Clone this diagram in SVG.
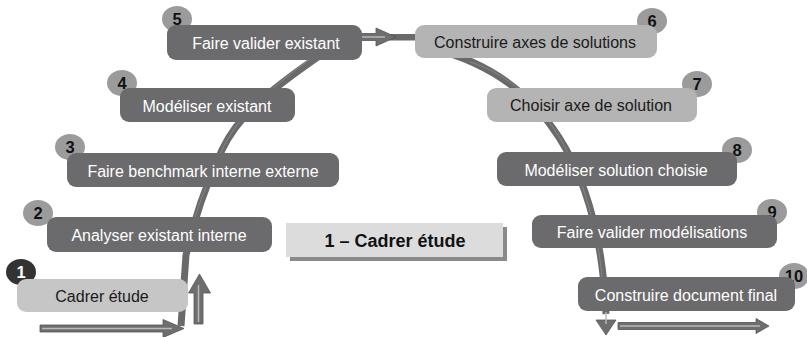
<svg xmlns="http://www.w3.org/2000/svg" width="807" height="337" viewBox="0 0 807 337">
<style>
.dark{fill:#6b6b6d}
.light1{fill:#c6c6c6}
.light2{fill:#b4b4b4}
.t{font-family:"Liberation Sans",Arial,sans-serif;font-size:16px;text-anchor:middle}
.tw{fill:#ffffff}
.tb{fill:#1a1a1a}
.badge{fill:#9b9b9b}
.bn{font-family:"Liberation Sans",Arial,sans-serif;font-size:16.5px;font-weight:bold;text-anchor:middle;fill:#111}
.curve{fill:none;stroke:#6a6a6a;stroke-width:7;stroke-linecap:butt}
.streak{fill:none;stroke:#9a9a9a;stroke-width:1;opacity:0.6}
.arr{fill:#6e6e6e;stroke:#555;stroke-width:0.8}
.inner{stroke:#b9b9b9;stroke-width:1.5;fill:none}
</style>
<rect width="807" height="337" fill="#ffffff"/>
<g id="connectors">
  <path class="curve" d="M181,326 L186,255 C195,215 208,180 222,150 S260,95 340,42"/>
  <path class="streak" d="M188,240 C196,210 208,180 222,150 S260,95 320,52"/>
  <path class="curve" d="M430,48 C545,75 600,170 606,314"/>
  <path class="streak" d="M470,62 C545,85 597,175 604,300"/>
  <rect x="389" y="34" width="29" height="6.5" fill="#6a6a6a"/>
  <polygon class="arr" points="360,33.5 376,33.5 376,28 396,37 376,46 376,40.5 360,40.5"/>
  <line class="inner" x1="362" y1="37" x2="385" y2="37"/>
  <polygon class="arr" points="40,325 163,325 163,319.5 184,328.5 163,337.5 163,332 40,332"/>
  <line class="inner" x1="42" y1="328.5" x2="172" y2="328.5"/>
  <polygon class="arr" points="194,324 194,293 188.5,293 199.5,274 210.5,293 203,293 203,324"/>
  <line class="inner" x1="198.5" y1="322" x2="198.5" y2="285"/>
  <polygon class="arr" points="596,320 616,320 606,335"/>
  <line class="inner" x1="606" y1="312" x2="606" y2="324"/>
  <polygon class="arr" points="618,322.5 756,322.5 756,318.5 769,326 756,333.5 756,329.5 618,329.5"/>
  <line class="inner" x1="620" y1="326" x2="760" y2="326"/>
</g>
<g id="node1">
  <ellipse cx="21" cy="272" rx="15" ry="13" fill="#333333"/>
  <rect class="light1" x="17" y="279" width="171" height="33" rx="9"/>
  <text class="bn" x="21" y="278" style="fill:#ffffff">1</text>
  <text class="t tb" x="102" y="301.5">Cadrer étude</text>
</g>
<g id="node2">
  <ellipse class="badge" cx="38" cy="213" rx="15" ry="13"/>
  <text class="bn" x="38" y="219">2</text>
  <rect class="dark" x="47" y="217" width="225" height="35" rx="9"/>
  <text class="t tw" x="159" y="240.5">Analyser existant interne</text>
</g>
<g id="node3">
  <ellipse class="badge" cx="70" cy="147" rx="15" ry="13"/>
  <text class="bn" x="70" y="153">3</text>
  <rect class="dark" x="67" y="153" width="272" height="34" rx="9"/>
  <text class="t tw" x="203" y="176.5">Faire benchmark interne externe</text>
</g>
<g id="node4">
  <ellipse class="badge" cx="122" cy="83" rx="15" ry="13"/>
  <text class="bn" x="122" y="89">4</text>
  <rect class="dark" x="120" y="88" width="175" height="34" rx="9"/>
  <text class="t tw" x="207" y="111.5">Modéliser existant</text>
</g>
<g id="node5">
  <ellipse class="badge" cx="177" cy="19" rx="15" ry="13"/>
  <text class="bn" x="177" y="25">5</text>
  <rect class="dark" x="167" y="25" width="195" height="35" rx="9"/>
  <text class="t tw" x="266" y="48.5">Faire valider existant</text>
</g>
<g id="node6">
  <ellipse class="badge" cx="652" cy="21" rx="15" ry="13"/>
  <text class="bn" x="652" y="27">6</text>
  <rect class="light2" x="415" y="25" width="242" height="33" rx="9"/>
  <text class="t tb" x="535" y="47.5">Construire axes de solutions</text>
</g>
<g id="node7">
  <ellipse class="badge" cx="697" cy="84" rx="15" ry="13"/>
  <text class="bn" x="697" y="90">7</text>
  <rect class="light2" x="487" y="88" width="210" height="34" rx="9"/>
  <text class="t tb" x="591" y="110.5">Choisir axe de solution</text>
</g>
<g id="node8">
  <ellipse class="badge" cx="737" cy="150" rx="15" ry="13"/>
  <text class="bn" x="737" y="156">8</text>
  <rect class="dark" x="497" y="152" width="240" height="34" rx="9"/>
  <text class="t tw" x="616" y="175.5">Modéliser solution choisie</text>
</g>
<g id="node9">
  <ellipse class="badge" cx="772" cy="212" rx="15" ry="13"/>
  <text class="bn" x="772" y="218">9</text>
  <rect class="dark" x="532" y="215" width="245" height="33" rx="9"/>
  <text class="t tw" x="652" y="237.5">Faire valider modélisations</text>
</g>
<g id="node10">
  <ellipse class="badge" cx="794" cy="276" rx="15" ry="13"/>
  <text class="bn" x="794" y="282">10</text>
  <rect class="dark" x="578" y="277" width="217" height="34" rx="9"/>
  <text class="t tw" x="686" y="300.5">Construire document final</text>
</g>
<g id="title">
  <rect x="290" y="227" width="217" height="34" fill="#8a8a8a"/>
  <rect x="286" y="223" width="217" height="34" fill="#dcdcdc"/>
  <text x="395" y="246.5" style="font-family:'Liberation Sans',Arial,sans-serif;font-size:18px;font-weight:bold;text-anchor:middle;fill:#111">1 – Cadrer étude</text>
</g>
</svg>
